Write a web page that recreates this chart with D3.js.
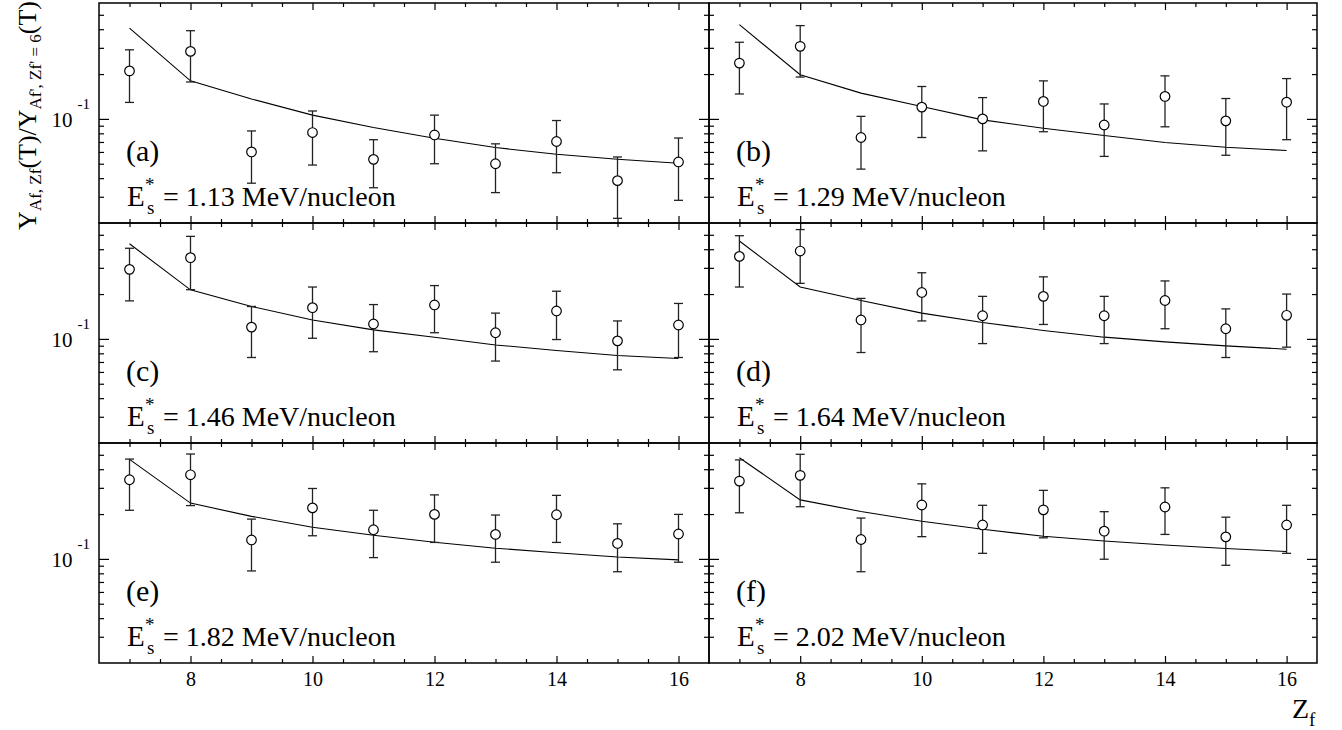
<!DOCTYPE html>
<html>
<head>
<meta charset="utf-8">
<script src="https://cdn.jsdelivr.net/npm/d3@7"></script>
<style>
  body { margin: 0; background: #fff; }
  text { font-family: "Liberation Serif", "Times New Roman", serif; fill: #000; }
</style>
</head>
<body>
<svg id="chart" width="1342" height="730"></svg>
<script>
// fragment charge on the x axis
const zValues = [7, 8, 9, 10, 11, 12, 13, 14, 15, 16];
const panelTags = ["(a)", "(b)", "(c)", "(d)", "(e)", "(f)"];
const energies = ["1.13", "1.29", "1.46", "1.64", "1.82", "2.02"];

// measured yield ratios, one row per panel
const ratioData = [
  [0.210, 0.284, 0.060, 0.081, 0.0535, 0.078, 0.050, 0.0705, 0.0385, 0.0514],
  [0.237, 0.307, 0.075, 0.120, 0.100, 0.131, 0.091, 0.1415, 0.097, 0.1295],
  [0.293, 0.351, 0.120, 0.162, 0.126, 0.169, 0.110, 0.154, 0.097, 0.124],
  [0.358, 0.389, 0.134, 0.205, 0.143, 0.193, 0.143, 0.181, 0.117, 0.144],
  [0.340, 0.367, 0.134, 0.220, 0.157, 0.199, 0.146, 0.198, 0.127, 0.147],
  [0.333, 0.364, 0.135, 0.230, 0.169, 0.2135, 0.1535, 0.223, 0.1406, 0.169]
];
const ratioErrors = [
  [0.081, 0.107, 0.023, 0.032, 0.019, 0.028, 0.018, 0.027, 0.017, 0.023],
  [0.090, 0.116, 0.029, 0.045, 0.039, 0.049, 0.035, 0.053, 0.040, 0.057],
  [0.113, 0.137, 0.045, 0.061, 0.044, 0.059, 0.039, 0.055, 0.035, 0.049],
  [0.135, 0.153, 0.053, 0.073, 0.050, 0.068, 0.050, 0.064, 0.042, 0.056],
  [0.128, 0.139, 0.051, 0.077, 0.055, 0.070, 0.051, 0.069, 0.045, 0.052],
  [0.129, 0.140, 0.053, 0.089, 0.060, 0.075, 0.054, 0.077, 0.050, 0.060]
];
// model curve
const modelCurves = [
  [0.407, 0.180, 0.136, 0.106, 0.0876, 0.0742, 0.0642, 0.0579, 0.0536, 0.0504],
  [0.429, 0.198, 0.149, 0.121, 0.0985, 0.0866, 0.0773, 0.0694, 0.0645, 0.0613],
  [0.435, 0.2135, 0.165, 0.134, 0.115, 0.1027, 0.0911, 0.0836, 0.0773, 0.0739],
  [0.454, 0.223, 0.181, 0.149, 0.129, 0.114, 0.1027, 0.0955, 0.0898, 0.0853],
  [0.466, 0.237, 0.193, 0.163, 0.144, 0.1295, 0.118, 0.110, 0.103, 0.0985],
  [0.478, 0.249, 0.208, 0.179, 0.158, 0.142, 0.132, 0.124, 0.1175, 0.112]
];

const xMajorTicks = [8, 10, 12, 14, 16];
const xMinorTicks = [7, 7.5, 8.5, 9, 9.5, 10.5, 11, 11.5, 12.5, 13, 13.5, 14.5, 15, 15.5];
const yMajorTicks = [0.1];
const yMinorTicks = [0.03, 0.04, 0.05, 0.06, 0.07, 0.08, 0.09, 0.2, 0.3, 0.4, 0.5];

var svg = d3.select("#chart");

var colEdges = [[99, 709], [709, 1317]];
var rowEdges = [[3, 223], [223, 443], [443, 663]];

function noDomain(g) { g.select(".domain").remove(); }

panelTags.forEach(function(tag, i) {
  var col = i % 2, row = Math.floor(i / 2);
  var x0 = colEdges[col][0], x1 = colEdges[col][1];
  var y0 = rowEdges[row][0], y1 = rowEdges[row][1];

  var x = d3.scaleLinear().domain([6.5, 16.5]).range([x0, x1]);
  var y = d3.scaleLog().domain([0.02, 0.6]).range([y1, y0]);

  var panel = svg.append("g").attr("class", "panel");

  // ticks on all four sides, pointing inward
  panel.append("g").attr("transform", "translate(0," + y1 + ")")
    .call(d3.axisBottom(x).tickValues(xMinorTicks).tickSize(-4).tickSizeOuter(0).tickFormat(""))
    .call(noDomain);
  var bottomMajor = panel.append("g").attr("transform", "translate(0," + y1 + ")")
    .call(d3.axisBottom(x).tickValues(xMajorTicks).tickSize(-7).tickSizeOuter(0).tickPadding(9)
      .tickFormat(row === 2 ? d3.format("d") : ""))
    .call(noDomain);
  bottomMajor.selectAll("text")
    .style("font-family", "Liberation Serif").attr("font-size", 20).attr("fill", "#000");

  panel.append("g").attr("transform", "translate(0," + y0 + ")")
    .call(d3.axisTop(x).tickValues(xMinorTicks).tickSize(-4).tickSizeOuter(0).tickFormat(""))
    .call(noDomain);
  panel.append("g").attr("transform", "translate(0," + y0 + ")")
    .call(d3.axisTop(x).tickValues(xMajorTicks).tickSize(-7).tickSizeOuter(0).tickFormat(""))
    .call(noDomain);

  panel.append("g").attr("transform", "translate(" + x0 + ",0)")
    .call(d3.axisLeft(y).tickValues(yMinorTicks).tickSize(-5).tickSizeOuter(0).tickFormat(""))
    .call(noDomain);
  var leftMajor = panel.append("g").attr("transform", "translate(" + x0 + ",0)")
    .call(d3.axisLeft(y).tickValues(yMajorTicks).tickSize(-10).tickSizeOuter(0).tickPadding(9)
      .tickFormat(""))
    .call(noDomain);
  if (col === 0) {
    leftMajor.selectAll(".tick text").each(function() {
      var t = d3.select(this).attr("dy", null).attr("y", 8)
        .style("font-family", "Liberation Serif").attr("font-size", 21).attr("fill", "#000");
      t.append("tspan").text("10");
      t.append("tspan").attr("dx", 5).attr("dy", -18).attr("font-size", 15).text("-1");
    });
  }

  panel.append("g").attr("transform", "translate(" + x1 + ",0)")
    .call(d3.axisRight(y).tickValues(yMinorTicks).tickSize(-5).tickSizeOuter(0).tickFormat(""))
    .call(noDomain);
  panel.append("g").attr("transform", "translate(" + x1 + ",0)")
    .call(d3.axisRight(y).tickValues(yMajorTicks).tickSize(-10).tickSizeOuter(0).tickFormat(""))
    .call(noDomain);

  panel.selectAll(".tick line").attr("stroke", "#000").attr("stroke-width", 1.2);

  // frame
  panel.append("rect")
    .attr("x", x0).attr("y", y0)
    .attr("width", x1 - x0).attr("height", y1 - y0)
    .attr("fill", "none").attr("stroke", "#000").attr("stroke-width", 1.5);

  var points = zValues.map(function(z, k) {
    return { z: z, v: ratioData[i][k], e: ratioErrors[i][k], m: modelCurves[i][k] };
  });

  // model line
  var line = d3.line()
    .x(function(d) { return x(d.z); })
    .y(function(d) { return y(d.m); });
  panel.append("path")
    .datum(points)
    .attr("d", line)
    .attr("fill", "none").attr("stroke", "#000").attr("stroke-width", 1.1);

  // error bars
  var bars = panel.append("g").attr("stroke", "#222").attr("stroke-width", 1.3);
  bars.selectAll("line.err").data(points).enter().append("line")
    .attr("class", "err")
    .attr("x1", function(d) { return x(d.z); }).attr("x2", function(d) { return x(d.z); })
    .attr("y1", function(d) { return y(d.v + d.e); })
    .attr("y2", function(d) { return y(d.v - d.e); });
  bars.selectAll("line.capHi").data(points).enter().append("line")
    .attr("class", "capHi")
    .attr("x1", function(d) { return x(d.z) - 4.5; }).attr("x2", function(d) { return x(d.z) + 4.5; })
    .attr("y1", function(d) { return y(d.v + d.e); })
    .attr("y2", function(d) { return y(d.v + d.e); });
  bars.selectAll("line.capLo").data(points).enter().append("line")
    .attr("class", "capLo")
    .attr("x1", function(d) { return x(d.z) - 4.5; }).attr("x2", function(d) { return x(d.z) + 4.5; })
    .attr("y1", function(d) { return y(d.v - d.e); })
    .attr("y2", function(d) { return y(d.v - d.e); });

  // open circles
  panel.selectAll("circle").data(points).enter().append("circle")
    .attr("cx", function(d) { return x(d.z); })
    .attr("cy", function(d) { return y(d.v); })
    .attr("r", 4.8)
    .attr("fill", "#fff").attr("stroke", "#000").attr("stroke-width", 1.2);

  // panel labels
  panel.append("text")
    .attr("x", x0 + 27).attr("y", y0 + 158)
    .attr("font-size", 30).text(tag);
  panel.append("text")
    .attr("x", x0 + 28).attr("y", y0 + 203)
    .attr("font-size", 29).text("E");
  panel.append("text")
    .attr("x", x0 + 46).attr("y", y0 + 188)
    .attr("font-size", 19).text("*");
  panel.append("text")
    .attr("x", x0 + 48).attr("y", y0 + 211)
    .attr("font-size", 19).text("s");
  panel.append("text")
    .attr("x", x0 + 64).attr("y", y0 + 203)
    .attr("font-size", 28).text("= " + energies[i] + " MeV/nucleon");
});

// y axis title
var yTitle = svg.append("text")
  .attr("transform", "translate(36,1) rotate(-90)")
  .attr("text-anchor", "end")
  .attr("font-size", 26);
yTitle.append("tspan").text("Y");
yTitle.append("tspan").attr("font-size", 17).attr("dy", 5).text("Af, Zf");
yTitle.append("tspan").attr("dy", -5).text("(T)/Y");
yTitle.append("tspan").attr("font-size", 17).attr("dy", 5).text("Af', Zf' = 6");
yTitle.append("tspan").attr("dy", -5).text("(T)");

// x axis title
var xTitle = svg.append("text")
  .attr("x", 1292).attr("y", 718)
  .attr("font-size", 28);
xTitle.append("tspan").text("Z");
xTitle.append("tspan").attr("font-size", 19).attr("dy", 8).text("f");
</script>
</body>
</html>
